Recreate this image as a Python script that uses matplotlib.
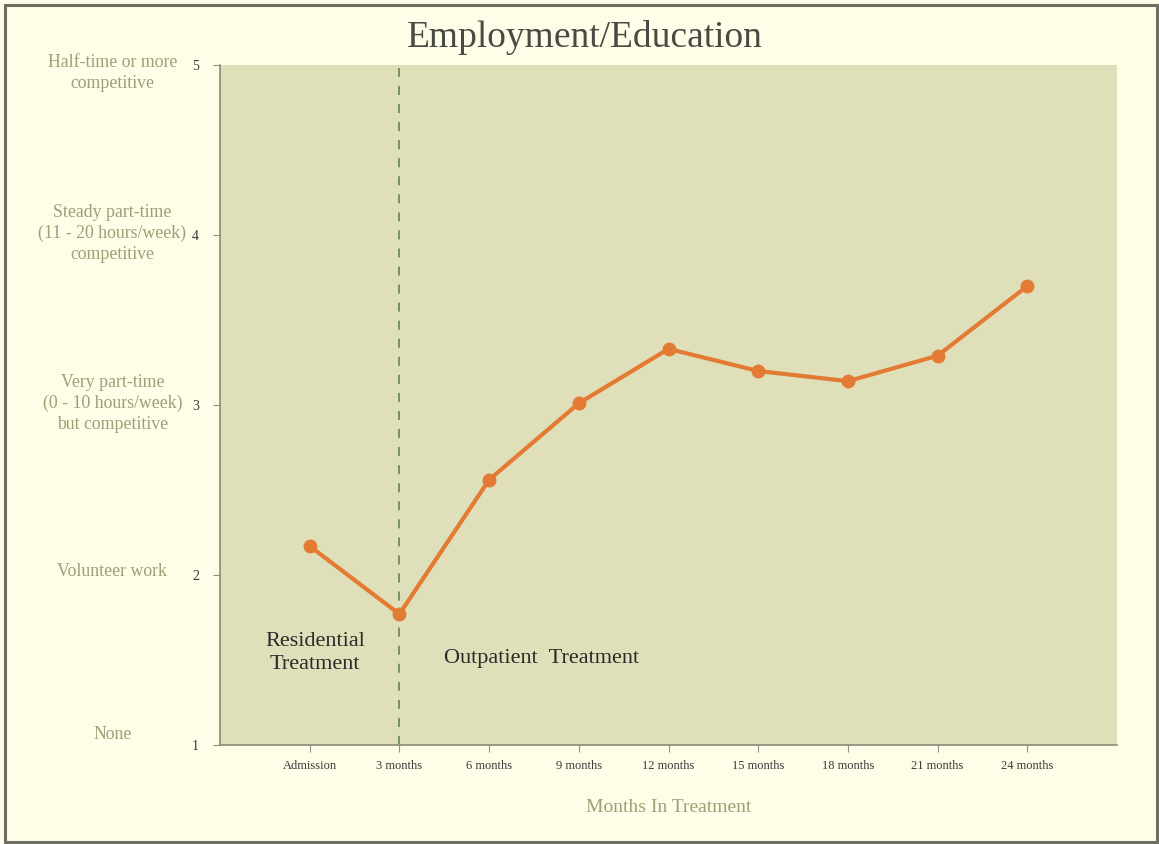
import matplotlib
matplotlib.use('Agg')
import matplotlib.pyplot as plt
from matplotlib.patches import Rectangle

# Data
months = ['Admission', '3 months', '6 months', '9 months', '12 months',
          '15 months', '18 months', '21 months', '24 months']
scores = [2.17, 1.77, 2.56, 3.01, 3.33, 3.20, 3.14, 3.29, 3.70]
level_ticks = [1, 2, 3, 4, 5]
level_names = ['None', 'Volunteer work',
               'Very part-time\n(0 - 10 hours/week)\nbut competitive',
               'Steady part-time\n(11 - 20 hours/week)\ncompetitive',
               'Half-time or more\ncompetitive']
level_offsets = [0.06, 0.02, 0.01, 0.01, -0.045]

plt.rcParams['font.family'] = ['Liberation Serif', 'DejaVu Serif']

bg = '#fefde8'
plot_bg = '#dfdfb9'
olive = '#9f9f76'
orange = '#e47b34'

fig = plt.figure(figsize=(11.59, 8.44), dpi=100, facecolor=bg)
fig.patches.append(Rectangle((0.004, 0.002), 0.994, 0.992, transform=fig.transFigure,
                             fill=False, edgecolor='#6e6e60', linewidth=2.2))

ax = fig.add_axes([0.1898, 0.1173, 0.774, 0.8057])
ax.set_facecolor(plot_bg)

x = list(range(len(months)))
ax.plot(x, scores, color=orange, linewidth=3, marker='o', markersize=9,
        solid_capstyle='round', zorder=3)
ax.axvline(1, color='#6f8a5a', linestyle=(0, (5, 5)), linewidth=1.3, zorder=2)

ax.set_xlim(-1, 9)
ax.set_ylim(1, 5)
ax.set_xticks(x)
ax.set_xticklabels(months, fontsize=9, color='#3a3a3a')
ax.set_yticks(level_ticks)
ax.set_yticklabels([str(t) for t in level_ticks], fontsize=10, color='#3a3a3a')
ax.tick_params(axis='both', length=5, color='#909080', pad=6)
ax.tick_params(axis='y', pad=10)
for s in ['top', 'right']:
    ax.spines[s].set_visible(False)
for s in ['left', 'bottom']:
    ax.spines[s].set_color('#8a8a78')
    ax.spines[s].set_linewidth(1.2)

for t, name, off in zip(level_ticks, level_names, level_offsets):
    ax.text(-2.2, t + off, name, ha='center', va='center', fontsize=12.8,
            color=olive, linespacing=1.3)

ax.text(0.06, 1.54, 'Residential\nTreatment', ha='center', va='center',
        fontsize=16, color='#2a2a2a', linespacing=1.3)
ax.text(1.5, 1.51, 'Outpatient  Treatment', ha='left', va='center',
        fontsize=16, color='#2a2a2a')

ax.set_xlabel('Months In Treatment', fontsize=14, color=olive, labelpad=19)
fig.text(0.505, 0.955, 'Employment/Education', ha='center', va='center',
         fontsize=27, color='#4a4a44')

fig.savefig('out.png', dpi=100, facecolor=bg)
